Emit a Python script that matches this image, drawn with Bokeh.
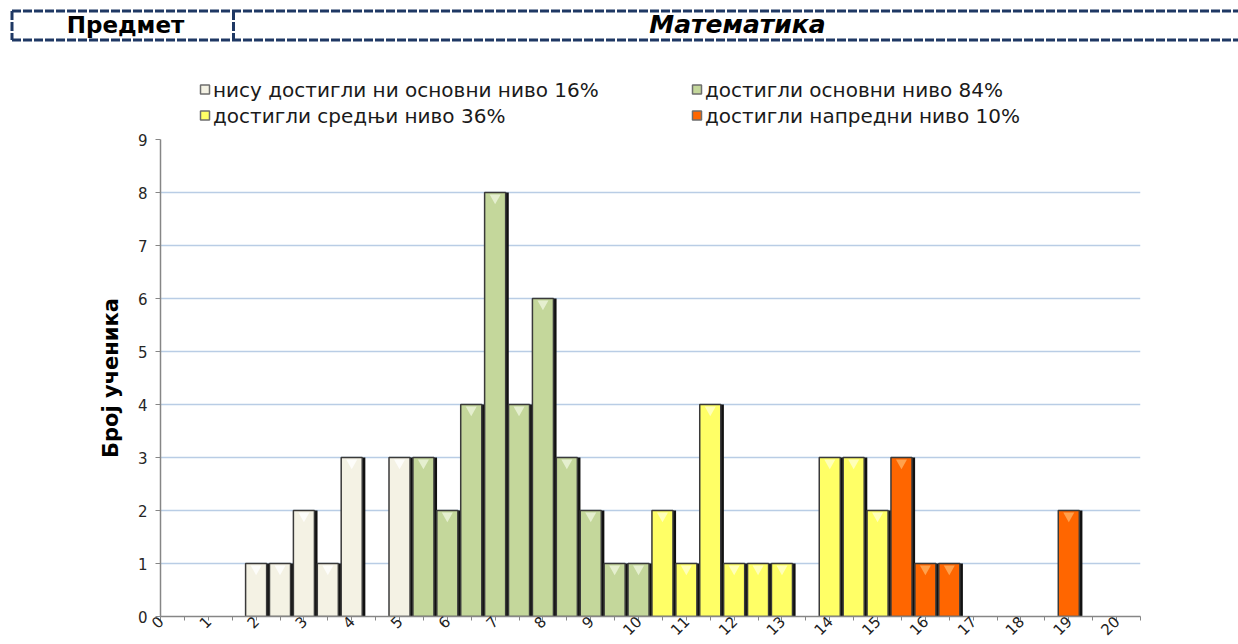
import math
from bokeh.plotting import figure
from bokeh.layouts import column
from bokeh.models import Range1d, FixedTicker, ColumnDataSource
from bokeh.core.properties import value
from bokeh.embed import file_html
from bokeh.resources import INLINE

# ---------------- data ----------------
subject_label = "Предмет"
subject_name = "Математика"
y_label = "Број ученика"

level_names = [
    "нису достигли ни основни ниво 16%",
    "достигли основни ниво 84%",
    "достигли средњи ниво 36%",
    "достигли напредни ниво 10%",
]
level_colors = ["#f4f2e4", "#c4d79b", "#ffff66", "#ff6600"]
level_highlights = ["#ffffff", "#eef5dc", "#ffffd0", "#ffb060"]

lvl0_x = [2, 2.5, 3, 3.5, 4, 5]
lvl0_n = [1, 1, 2, 1, 3, 3]
lvl1_x = [5.5, 6, 6.5, 7, 7.5, 8, 8.5, 9, 9.5, 10]
lvl1_n = [3, 2, 4, 8, 4, 6, 3, 2, 1, 1]
lvl2_x = [10.5, 11, 11.5, 12, 12.5, 13, 14, 14.5, 15]
lvl2_n = [2, 1, 4, 1, 1, 1, 3, 3, 2]
lvl3_x = [15.5, 16, 16.5, 19]
lvl3_n = [3, 1, 1, 2]

x_major = list(range(0, 21))
x_minor = [i + 0.5 for i in range(0, 21)]
y_ticks = list(range(0, 10))

series = [(lvl0_x, lvl0_n), (lvl1_x, lvl1_n), (lvl2_x, lvl2_n), (lvl3_x, lvl3_n)]

FONT = "DejaVu Sans"
W = 1238
HT = 130            # header + legend strip height
HM = 644 - HT       # main chart height

# ---------------- header + legend strip ----------------
h = figure(width=W, height=HT, x_range=Range1d(0, W), y_range=Range1d(HT, 0),
           x_axis_type=None, y_axis_type=None, toolbar_location=None,
           output_backend="svg", min_border=0)
h.outline_line_color = None
h.frame_align = False

hdr_col = "#1f3864"
h.multi_line(xs=[[11.5, 1260], [11.5, 1260], [11.5, 11.5], [233, 233]],
             ys=[[10.5, 10.5], [39.5, 39.5], [10.5, 39.5], [10.5, 39.5]],
             line_color=hdr_col, line_width=3, line_dash="9 2")
h.text(x=[125], y=[24], text=[subject_label], text_font=value(FONT),
       text_font_style="bold", text_font_size="23px", text_align="center",
       text_baseline="middle", text_color="black")
h.text(x=[737], y=[24], text=[subject_name], text_font=value(FONT),
       text_font_style="bold italic", text_font_size="25px", text_align="center",
       text_baseline="middle", text_color="black")

leg_X = [204.5, 696.5, 204.5, 696.5]
leg_Y = [89, 89, 115, 115]
h.rect(x=leg_X, y=leg_Y, width=9, height=9, fill_color=level_colors,
       line_color="#6e6e6e", line_width=1.5)
h.text(x=[X + 8 for X in leg_X], y=leg_Y, text=level_names, text_font=value(FONT),
       text_font_size="20px", text_baseline="middle", text_align="left",
       text_color="#1a1a1a")

# ---------------- main chart ----------------
FL, FR, FT, FB = 160, 1140, 139, 616   # frame edges on the page
p = figure(width=W, height=HM, x_range=Range1d(0, 20.5), y_range=Range1d(0, 9),
           toolbar_location=None, output_backend="svg",
           min_border_left=FL, min_border_right=W - FR, min_border_top=FT - HT,
           min_border_bottom=644 - FB)
p.outline_line_color = None
p.frame_align = False
p.xgrid.visible = False
p.ygrid.grid_line_color = "#b9cde5"
p.ygrid.grid_line_width = 1.5
p.ygrid.ticker = FixedTicker(ticks=y_ticks[1:])

p.xaxis.ticker = FixedTicker(ticks=x_major, minor_ticks=x_minor)
p.xaxis.major_label_orientation = math.pi / 4
p.xaxis.axis_line_color = "#868686"
p.xaxis.axis_line_width = 1.5
p.xaxis.major_tick_line_color = "#868686"
p.xaxis.minor_tick_line_color = "#868686"
p.xaxis.major_tick_out = 4
p.xaxis.major_tick_in = 0
p.xaxis.minor_tick_out = 4
p.xaxis.minor_tick_in = 0
p.xaxis.major_label_text_font = FONT
p.xaxis.major_label_text_font_size = "15px"
p.xaxis.major_label_text_color = "#222222"
p.xaxis.major_label_standoff = -2

p.yaxis.ticker = FixedTicker(ticks=y_ticks)
p.yaxis.axis_line_color = "#868686"
p.yaxis.axis_line_width = 1.5
p.yaxis.major_tick_line_color = "#868686"
p.yaxis.major_tick_out = 5
p.yaxis.major_tick_in = 0
p.yaxis.minor_tick_line_color = None
p.yaxis.major_label_text_font = FONT
p.yaxis.major_label_text_font_size = "15px"
p.yaxis.major_label_text_color = "#262626"
p.yaxis.major_label_standoff = 8
p.yaxis.axis_label = y_label
p.yaxis.axis_label_text_font = FONT
p.yaxis.axis_label_text_font_style = "bold"
p.yaxis.axis_label_text_font_size = "21px"
p.yaxis.axis_label_text_color = "black"
p.yaxis.axis_label_standoff = 12

BW = 0.44
SH = 0.065
# shadows to the right of each bar
for xs, ns in series:
    p.vbar(x=[x + BW / 2 + SH / 2 for x in xs], top=ns, width=SH, bottom=0,
           fill_color="#111111", line_color=None)
# bars with a light bevel highlight near the top
for (xs, ns), col, hl in zip(series, level_colors, level_highlights):
    src = ColumnDataSource(dict(x=xs, top=ns, hy=[n - 0.1 for n in ns]))
    p.vbar(x="x", top="top", width=BW, bottom=0, source=src,
           fill_color=col, line_color="#3a3a3a", line_width=1.5)
    p.scatter(x="x", y="hy", source=src, marker="inverted_triangle", size=11,
              fill_color=hl, fill_alpha=0.8, line_color=None)

layout = column(h, p, spacing=0)
open("out.html", "w").write(file_html(layout, INLINE))
